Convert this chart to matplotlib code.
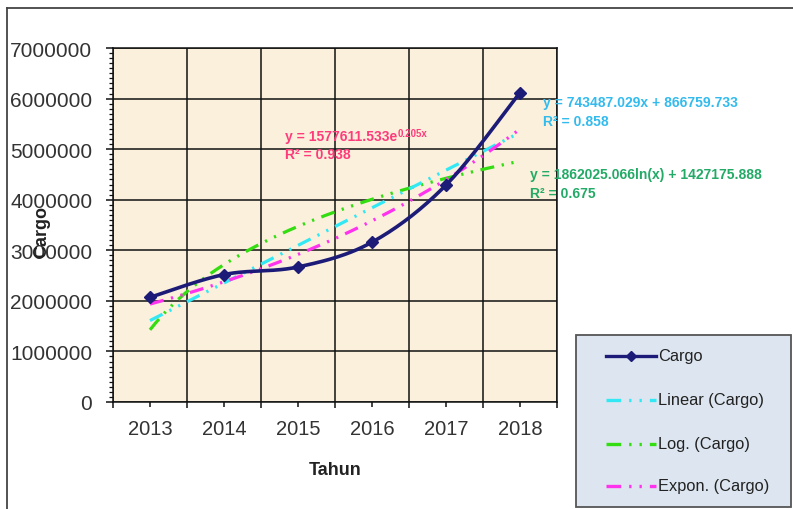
import numpy as np
import matplotlib
matplotlib.use("Agg")
import matplotlib.pyplot as plt
from matplotlib.lines import Line2D
from matplotlib.patches import Rectangle

plt.rcParams['font.family'] = ['Liberation Sans', 'DejaVu Sans']

# ---- data -------------------------------------------------------------
years = ['2013', '2014', '2015', '2016', '2017', '2018']
cargo = [2070000, 2520000, 2670000, 3160000, 4290000, 6120000]

# trendline coefficients (x = 1..n)
lin_slope, lin_icpt, lin_r2 = 743487.029, 866759.733, 0.858
log_coef, log_icpt, log_r2 = 1862025.066, 1427175.888, 0.675
exp_coef, exp_rate, exp_r2 = 1577611.533, 0.205, 0.938

y_ticks = [0, 1000000, 2000000, 3000000, 4000000, 5000000, 6000000, 7000000]

# ---- styles -----------------------------------------------------------
NAVY = '#1c1c78'
CYAN = '#33e8f5'
LIME = '#33dd11'
MAGENTA = '#ff33ee'
DASH = (0, (4.4, 2.4, 0.7, 2.4, 0.7, 2.4))

W, H = 793, 510
fig = plt.figure(figsize=(W / 100, H / 100), dpi=100)
fig.patch.set_facecolor('white')

def fx(px):
    return px / W

def fy(py):
    return 1 - py / H

# outer chart frame (runs off the right and bottom edges)
fig.add_artist(Line2D([fx(7), fx(7)], [fy(9), fy(520)], color='#444444', lw=1.3,
                      transform=fig.transFigure))
fig.add_artist(Line2D([fx(7), fx(800)], [fy(9), fy(9)], color='#444444', lw=1.3,
                      transform=fig.transFigure))

ax = fig.add_axes([fx(113), fy(403), fx(557) - fx(113), fy(49) - fy(403)])
ax.set_facecolor('#faf0db')

n = len(years)
idx = np.arange(n)
ax.set_xlim(-0.5, n - 0.5)
ax.set_ylim(0, 7000000)

# ---- smoothed cargo line (Catmull-Rom in screen-like space) ----------
def smooth(xs, ys, sx, sy, steps=40):
    P = np.column_stack([np.asarray(xs, float) * sx, np.asarray(ys, float) * sy])
    out = []
    m = len(P)
    for i in range(m - 1):
        p0 = P[i - 1] if i > 0 else P[i]
        p1, p2 = P[i], P[i + 1]
        p3 = P[i + 2] if i + 2 < m else P[i + 1]
        t = np.linspace(0, 1, steps)[:, None]
        m1 = (p2 - p0) / 2
        m2 = (p3 - p1) / 2
        h00 = 2 * t**3 - 3 * t**2 + 1
        h10 = t**3 - 2 * t**2 + t
        h01 = -2 * t**3 + 3 * t**2
        h11 = t**3 - t**2
        seg = h00 * p1 + h10 * m1 + h01 * p2 + h11 * m2
        out.append(seg if i == 0 else seg[1:])
    C = np.vstack(out)
    return C[:, 0] / sx, C[:, 1] / sy

sx_, sy_ = smooth(idx, cargo, 74.0, 50.5 / 1e6)

# ---- trendlines -------------------------------------------------------
t = np.linspace(1, n, 200)
lin_y = lin_slope * t + lin_icpt
log_y = log_coef * np.log(t) + log_icpt
exp_y = exp_coef * np.exp(exp_rate * t)

ax.plot(t - 1, log_y, color=LIME, lw=2.3, linestyle=DASH, zorder=3)
ax.plot(t - 1, lin_y, color=CYAN, lw=2.3, linestyle=DASH, zorder=3)
ax.plot(t - 1, exp_y, color=MAGENTA, lw=2.3, linestyle=DASH, zorder=3)
ax.plot(sx_, sy_, color=NAVY, lw=2.6, zorder=4, solid_capstyle='round')
ax.plot(idx, cargo, linestyle='none', marker='D', ms=6.5, color=NAVY, zorder=5)

# ---- axes / grid ------------------------------------------------------
ax.set_yticks(y_ticks)
ax.set_yticklabels([str(v) for v in y_ticks])
ax.set_yticks(np.arange(0, 7000001, 100000), minor=True)
ax.set_xticks(idx)
ax.set_xticklabels(years)
ax.set_xticks(np.arange(-0.5, n, 1.0), minor=True)

ax.grid(which='major', axis='y', color='#111111', lw=1.1)
ax.grid(which='minor', axis='x', color='#111111', lw=1.1)
ax.set_axisbelow(True)
for s in ax.spines.values():
    s.set_color('#111111')
    s.set_linewidth(1.1)

ax.tick_params(axis='y', which='major', direction='out', length=5, width=1.1,
               labelsize=15, pad=10, colors='#111111', labelcolor='#333333')
ax.tick_params(axis='y', which='minor', direction='out', length=3, width=0.9,
               colors='#111111')
ax.tick_params(axis='x', which='major', direction='out', length=3.5, width=1.1,
               labelsize=14.5, pad=9, colors='#111111', labelcolor='#333333')
ax.tick_params(axis='x', which='minor', direction='out', length=4, width=1.1,
               colors='#111111')

ax.set_xlabel('Tahun', fontsize=13, fontweight='bold', color='#222222', labelpad=16)
fig.text(fx(42), fy(232), 'Cargo', rotation=90, fontsize=13, fontweight='bold',
         color='#222222', ha='center', va='center')

# ---- trendline equations ---------------------------------------------
EXP_C = '#ff3b7c'
LIN_C = '#33bbee'
LOG_C = '#22aa66'

e1 = fig.text(fx(285), fy(137), f'y = {exp_coef:.3f}e', fontsize=10,
              fontweight='bold', color=EXP_C, va='center', ha='left')
ax.annotate(f'{exp_rate:.3f}x', xy=(1.0, 1.0), xycoords=e1, xytext=(0.5, -3),
            textcoords='offset points', fontsize=7, fontweight='bold',
            color=EXP_C, ha='left', va='center')
fig.text(fx(285), fy(155), f'R² = {exp_r2:.3f}', fontsize=10, fontweight='bold',
         color=EXP_C, va='center', ha='left')

fig.text(fx(543), fy(103), f'y = {lin_slope:.3f}x + {lin_icpt:.3f}', fontsize=10,
         fontweight='bold', color=LIN_C, va='center', ha='left')
fig.text(fx(543), fy(122), f'R² = {lin_r2:.3f}', fontsize=10, fontweight='bold',
         color=LIN_C, va='center', ha='left')

fig.text(fx(530), fy(175), f'y = {log_coef:.3f}ln(x) + {log_icpt:.3f}', fontsize=10,
         fontweight='bold', color=LOG_C, va='center', ha='left')
fig.text(fx(530), fy(194), f'R² = {log_r2:.3f}', fontsize=10, fontweight='bold',
         color=LOG_C, va='center', ha='left')

# ---- legend box -------------------------------------------------------
fig.add_artist(Rectangle((fx(576), fy(508)), fx(791) - fx(576), fy(336) - fy(508),
                         transform=fig.transFigure, facecolor='#dde6f0',
                         edgecolor='#555555', lw=1.3))
entries = [
    ('Cargo', NAVY, '-', 357),
    ('Linear (Cargo)', CYAN, DASH, 401),
    ('Log. (Cargo)', LIME, DASH, 445),
    ('Expon. (Cargo)', MAGENTA, DASH, 487),
]
for label, col, ls, yy in entries:
    fig.add_artist(Line2D([fx(606), fx(656)], [fy(yy), fy(yy)], color=col, lw=2.4,
                          linestyle=ls, transform=fig.transFigure))
    if label == 'Cargo':
        fig.add_artist(Line2D([fx(631)], [fy(yy)], marker='D', ms=5, color=col,
                              linestyle='none', transform=fig.transFigure))
    fig.text(fx(658), fy(yy), label, fontsize=11.8, color='#222222',
             va='center', ha='left')

fig.savefig('out.png', dpi=100)
